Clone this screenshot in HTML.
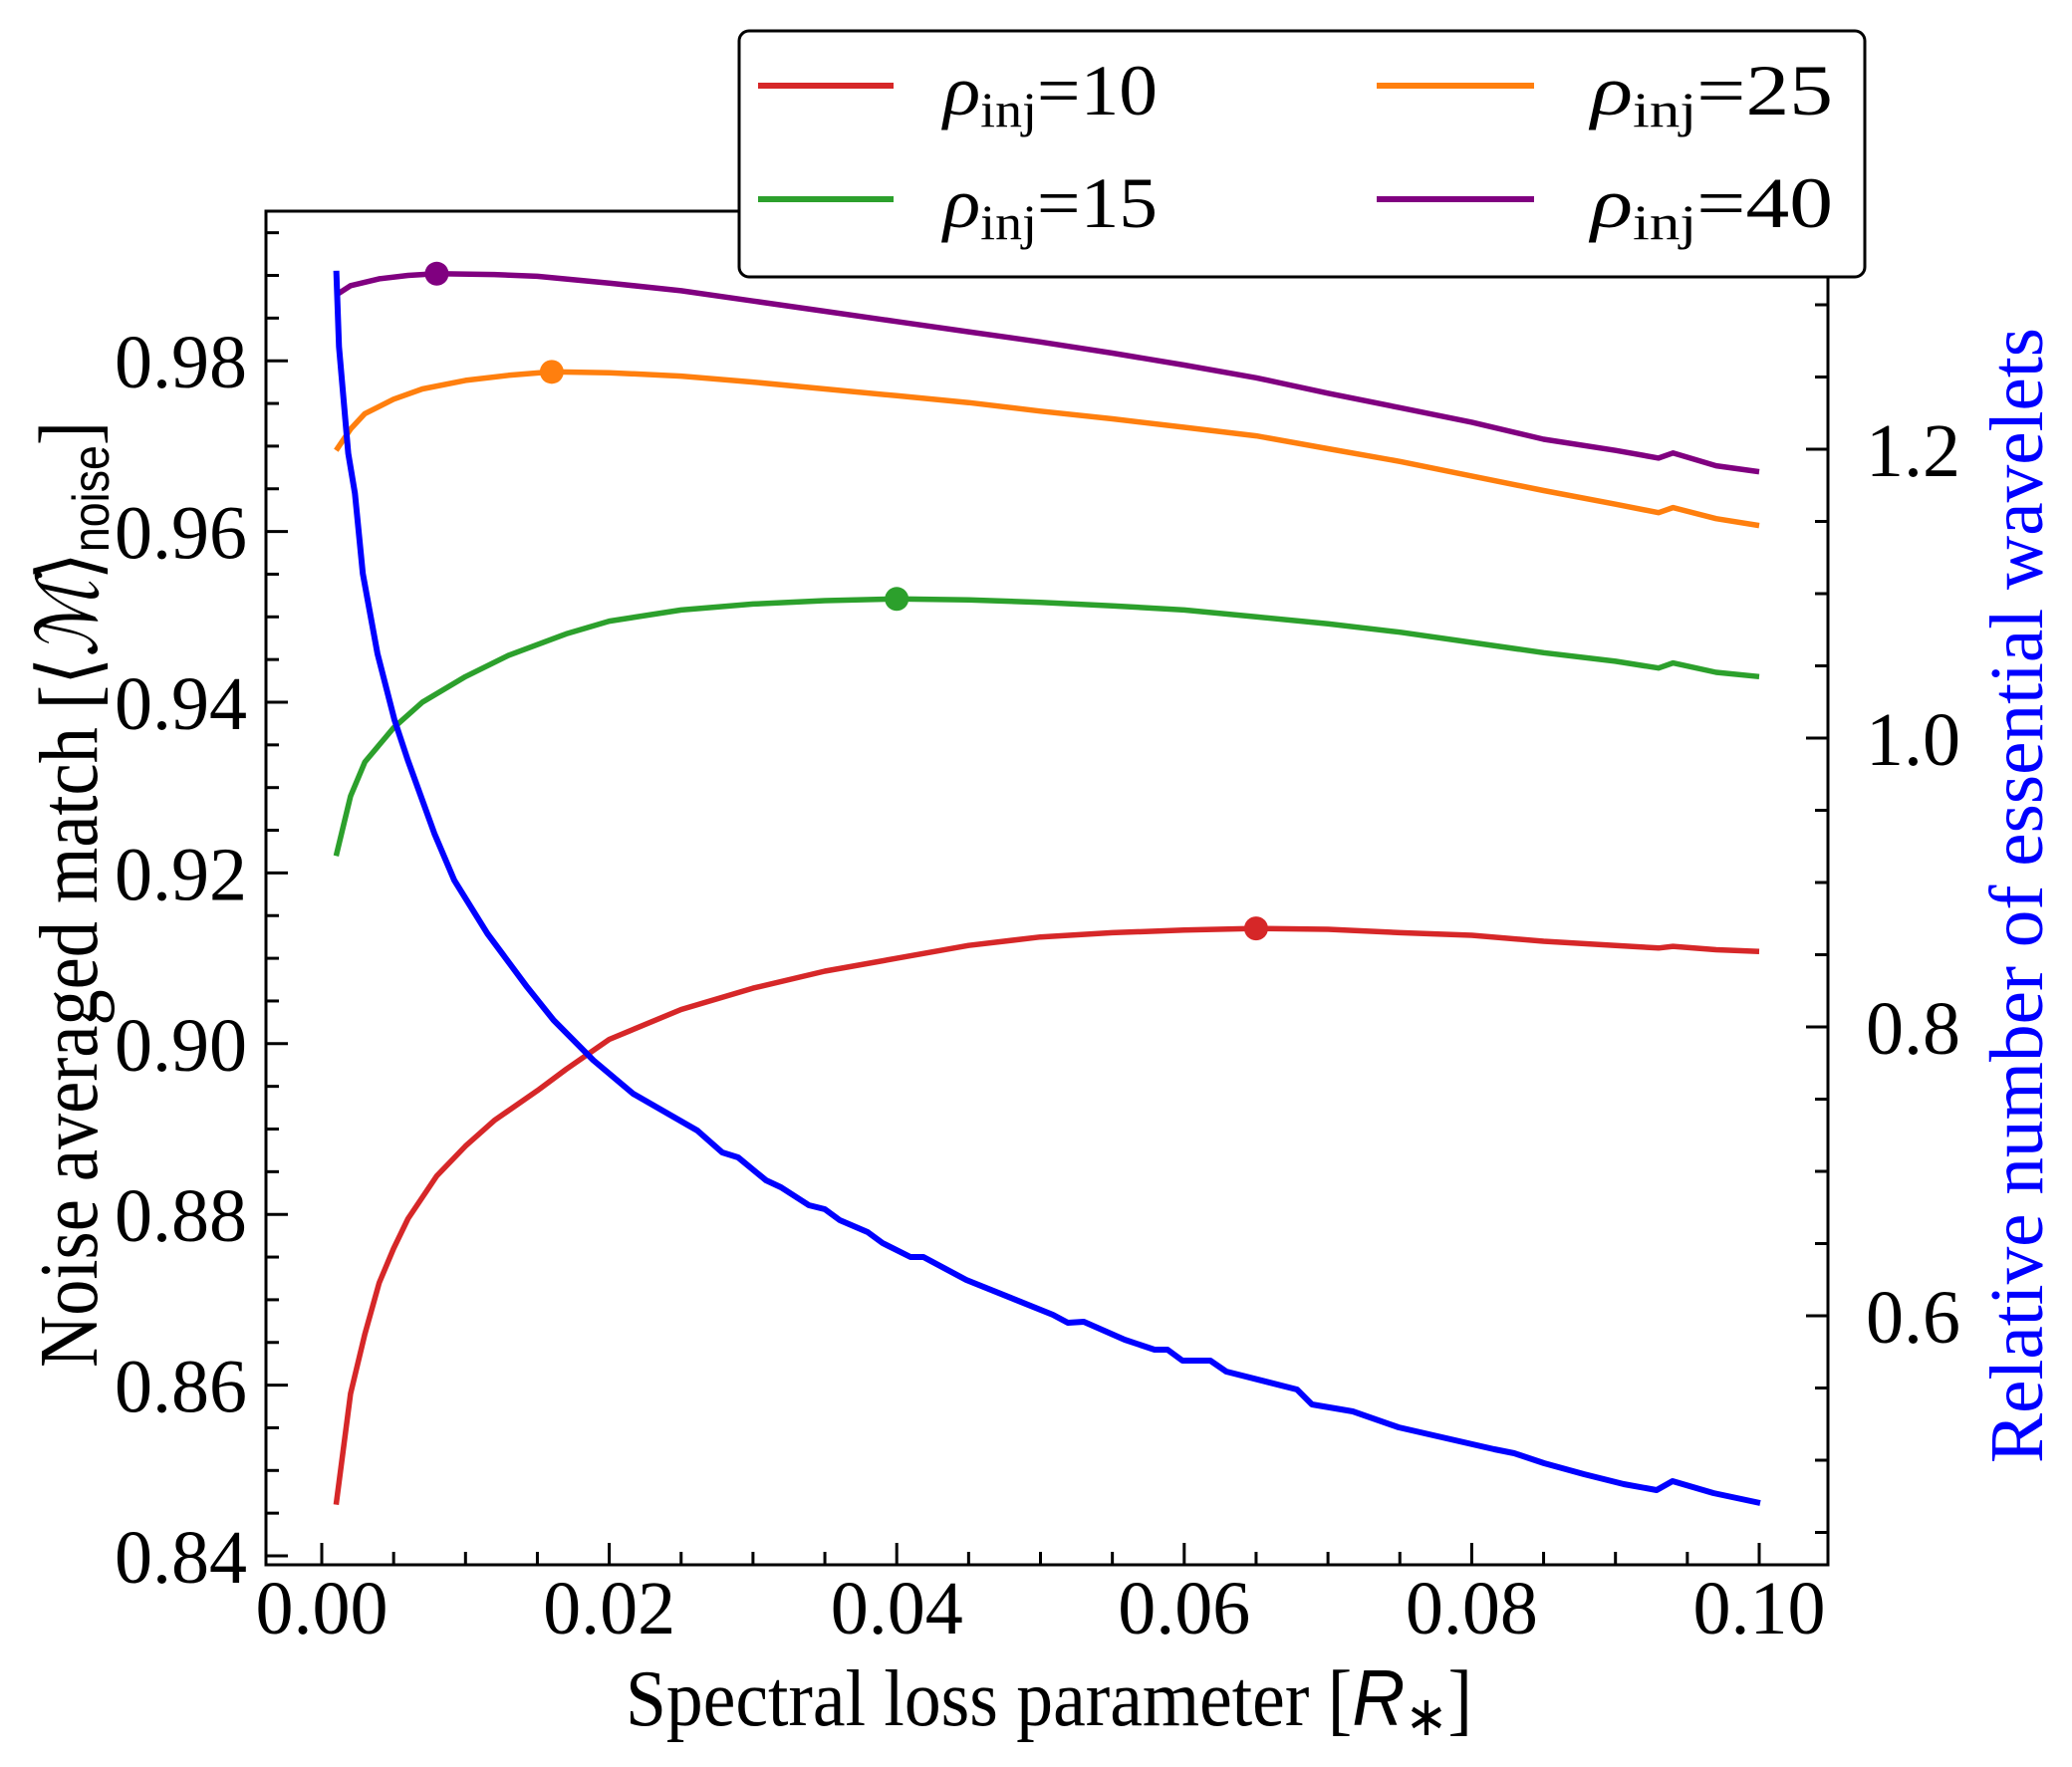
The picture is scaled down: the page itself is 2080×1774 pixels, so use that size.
<!DOCTYPE html>
<html><head><meta charset="utf-8"><style>
html,body{margin:0;padding:0;background:#fff;}
svg{display:block;}
text{font-family:"Liberation Serif",serif;}
</style></head><body>
<svg id="s" width="2080" height="1774" xmlns="http://www.w3.org/2000/svg">
<g id="curves"></g>
<g id="axes"></g>
<rect x="742" y="31" width="1130" height="247" rx="10" fill="#fff" stroke="#000" stroke-width="3"/>
<line x1="761" y1="86" x2="897" y2="86" stroke="#d62728" stroke-width="6"/>
<line x1="761" y1="200" x2="897" y2="200" stroke="#2ca02c" stroke-width="6"/>
<line x1="1382" y1="86" x2="1540" y2="86" stroke="#ff7f0e" stroke-width="6"/>
<line x1="1382" y1="200" x2="1540" y2="200" stroke="#800080" stroke-width="6"/>
<g font-size="72">
<text x="947" y="115" textLength="215" lengthAdjust="spacingAndGlyphs" font-family="DejaVu Sans, sans-serif"><tspan font-style="italic">ρ</tspan><tspan font-size="50" dy="12">inj</tspan><tspan dy="-12">=10</tspan></text>
<text x="947" y="228" textLength="215" lengthAdjust="spacingAndGlyphs" font-family="DejaVu Sans, sans-serif"><tspan font-style="italic">ρ</tspan><tspan font-size="50" dy="12">inj</tspan><tspan dy="-12">=15</tspan></text>
<text x="1597" y="115" textLength="243" lengthAdjust="spacingAndGlyphs" font-family="DejaVu Sans, sans-serif"><tspan font-style="italic">ρ</tspan><tspan font-size="50" dy="12">inj</tspan><tspan dy="-12">=25</tspan></text>
<text x="1597" y="228" textLength="243" lengthAdjust="spacingAndGlyphs" font-family="DejaVu Sans, sans-serif"><tspan font-style="italic">ρ</tspan><tspan font-size="50" dy="12">inj</tspan><tspan dy="-12">=40</tspan></text>
</g>
<text x="1053" y="1732" font-size="80" text-anchor="middle" textLength="850" lengthAdjust="spacingAndGlyphs">Spectral loss parameter [<tspan font-style="italic" font-family="Liberation Sans">R</tspan><tspan font-size="56" dy="10">∗</tspan><tspan dy="-10">]</tspan></text>
<text transform="translate(97,898) rotate(-90)" font-size="84" text-anchor="middle" textLength="950" lengthAdjust="spacingAndGlyphs">Noise averaged match [⟨<tspan font-style="italic">ℳ</tspan>⟩<tspan font-family="Liberation Sans" font-size="52" dy="12">noise</tspan><tspan dy="-12">]</tspan></text>
<text transform="translate(2050,899) rotate(-90)" font-size="76" fill="#0000ff" text-anchor="middle" textLength="1140" lengthAdjust="spacingAndGlyphs">Relative number of essential wavelets</text>
</svg>
<script>
var NS="http://www.w3.org/2000/svg";
function X(v){return 323+v*14430;}
function Y(v){return 1562-(v-0.84)*8570;}
function YR(v){return 1321-(v-0.6)*1450;}
function el(p,tag,a,txt){var e=document.createElementNS(NS,tag);for(var k in a)e.setAttribute(k,a[k]);if(txt!==undefined)e.textContent=txt;p.appendChild(e);return e;}
var C=document.getElementById('curves'),A=document.getElementById('axes');
function path(pts,col){var d=pts.map(function(p,i){return (i?'L':'M')+X(p[0]).toFixed(1)+' '+Y(p[1]).toFixed(1);}).join(' ');el(C,'path',{d:d,fill:'none',stroke:col,'stroke-width':5.5,'stroke-linejoin':'round'});}
var red=[[.001,.846],[.002,.859],[.003,.866],[.004,.872],[.005,.876],[.006,.8795],[.008,.8845],[.010,.888],[.012,.891],[.015,.8945],[.017,.897],[.020,.9005],[.025,.904],[.030,.9065],[.035,.9085],[.040,.910],[.045,.9115],[.050,.9125],[.055,.913],[.060,.9133],[.065,.9135],[.070,.9134],[.075,.913],[.080,.9127],[.085,.912],[.090,.9115],[.093,.9112],[.094,.9114],[.097,.911],[.100,.9108]];
var green=[[.001,.922],[.002,.929],[.003,.933],[.005,.937],[.007,.940],[.010,.943],[.013,.9455],[.017,.948],[.020,.9495],[.025,.9508],[.030,.9515],[.035,.9519],[.040,.9521],[.045,.952],[.050,.9517],[.055,.9513],[.060,.9508],[.065,.950],[.070,.9492],[.075,.9482],[.080,.947],[.085,.9458],[.090,.9448],[.093,.944],[.094,.9446],[.097,.9435],[.100,.943]];
var orange=[[.001,.9695],[.002,.972],[.003,.9738],[.005,.9755],[.007,.9767],[.010,.9777],[.013,.9783],[.016,.9787],[.020,.9786],[.025,.9782],[.030,.9775],[.035,.9767],[.040,.9759],[.045,.9751],[.050,.9741],[.055,.9732],[.060,.9722],[.065,.9712],[.070,.9697],[.075,.9682],[.080,.9665],[.085,.9648],[.090,.9632],[.093,.9622],[.094,.9628],[.097,.9615],[.100,.9607]];
var purple=[[.001,.9877],[.002,.9888],[.004,.9896],[.006,.99],[.008,.9902],[.012,.9901],[.015,.9899],[.020,.9891],[.025,.9882],[.030,.987],[.035,.9858],[.040,.9846],[.045,.9834],[.050,.9822],[.055,.9809],[.060,.9795],[.065,.978],[.070,.9762],[.075,.9745],[.080,.9728],[.085,.9708],[.090,.9695],[.093,.9686],[.094,.9692],[.097,.9677],[.100,.967]];
path(red,'#d62728');path(green,'#2ca02c');path(orange,'#ff7f0e');path(purple,'#800080');
var bd=[[256,203],[258,260],[265,340],[270,370],[276,430],[287,490],[300,540],[310,570],[330,625],[345,660],[370,700],[400,740],[420,765],[450,795],[480,820]];
var pts=bd.map(function(p){return [323+(p[0]-245)*1.33,p[1]*1.339];});
pts=pts.concat([[700,1135],[725,1157],[741,1162],[769,1185],[784,1192],[812,1210],[828,1214],[843,1225],[871,1237],[886,1248],[914,1262],[927,1262],[970,1285],[1057,1320],[1072,1328],[1088,1327],[1129,1345],[1159,1355],[1172,1355],[1187,1366],[1215,1366],[1231,1377],[1302,1395],[1317,1410],[1358,1417],[1404,1433],[1500,1455],[1520,1459],[1550,1469],[1590,1480],[1630,1490],[1663,1496],[1679,1487],[1720,1499],[1767,1509]]);
el(C,'path',{d:pts.map(function(p,i){return (i?'L':'M')+p[0].toFixed(1)+' '+p[1].toFixed(1);}).join(' '),fill:'none',stroke:'#0000ff','stroke-width':6,'stroke-linejoin':'round'});
[[.065,.9135,'#d62728'],[.040,.9521,'#2ca02c'],[.016,.9787,'#ff7f0e'],[.008,.9902,'#800080']].forEach(function(m){el(C,'circle',{cx:X(m[0]),cy:Y(m[1]),r:12,fill:m[2]});});
var L=267,R=1835,T=212,B=1571;
el(A,'rect',{x:L,y:T,width:R-L,height:B-T,fill:'none',stroke:'#000','stroke-width':3});
for(var i=0;i<=22;i++){var v=i*0.005;var x=X(v);if(x>R)break;var maj=(i%4==0);el(A,'line',{x1:x,y1:B,x2:x,y2:B-(maj?22:13),stroke:'#000','stroke-width':3});if(maj)el(A,'text',{x:x,y:1640,'font-size':76,'text-anchor':'middle'},(v).toFixed(2));}
for(var i=-1;i<=31;i++){var v=0.84+i*0.005;var y=Y(v);if(y>B||y<T)continue;var maj=(i%4==0);el(A,'line',{x1:L,y1:y,x2:L+(maj?22:13),y2:y,stroke:'#000','stroke-width':3});if(maj)el(A,'text',{x:248,y:y+27,'font-size':76,'text-anchor':'end'},v.toFixed(2));}
for(var i=0;i<=20;i++){var v=0.4+i*0.05;var y=YR(v);if(y>B||y<T)continue;var maj=(i%4==0);el(A,'line',{x1:R,y1:y,x2:R-(maj?22:13),y2:y,stroke:'#000','stroke-width':3});if(maj)el(A,'text',{x:1873,y:y+27,'font-size':76},v.toFixed(1));}
</script>
</body></html>
